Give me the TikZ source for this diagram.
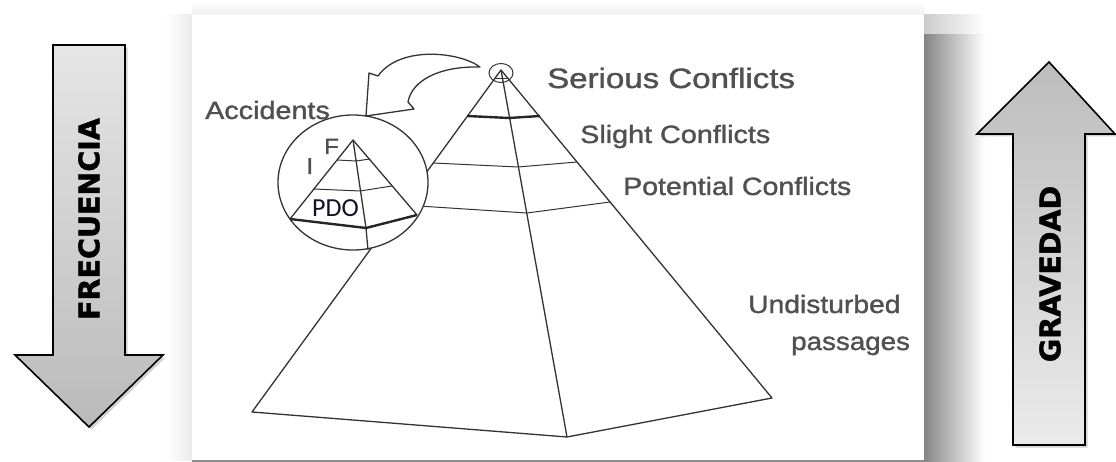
\documentclass[tikz,border=0pt]{standalone}
\usepackage{fontspec}
\usetikzlibrary{shadows}
\newfontfamily\labelfont[FakeBold=1.2]{Liberation Sans}
\newfontfamily\arrowfont[BoldFeatures={FakeBold=1.5}]{DejaVu Sans}
\newfontfamily\pdofont{Carlito}
\definecolor{Ink}{HTML}{333333}
\definecolor{Label}{HTML}{505050}
\definecolor{PdoInk}{HTML}{101028}

\begin{document}
\begin{tikzpicture}[x=1pt, y=-1pt,
    edge/.style={draw=Ink, line width=1.3pt, line join=round},
    layer/.style={draw=Ink, line width=1pt},
    boldlayer/.style={draw=black!85, line width=2.4pt},
    lab/.style={text=Label, font=\labelfont\fontsize{25}{28}\selectfont, inner sep=0pt, anchor=base west},
    bigarrow/.style={draw=black, line width=1.6pt, line join=miter,
      drop shadow={shadow xshift=2.5pt, shadow yshift=-2.5pt, opacity=.35}},
    arrowtext/.style={font=\arrowfont\bfseries\fontsize{28.5}{30}\selectfont, rotate=90, inner sep=0pt}
  ]
    \useasboundingbox (0,0) rectangle (1116,462);

    % frame of the scanned figure with its shadow
    \shade[left color=white, right color=black!8] (165,15) rectangle (192,460);
    \shade[top color=white, bottom color=black!6] (192,0) rectangle (924,15);
    \shade[left color=black!20, right color=white] (924,15) rectangle (985,35);
    \shade[left color=black!48, right color=white] (924,35) rectangle (985,462);
    \fill[black!45] (192,460) rectangle (924,462);
    \fill[white] (192,15) rectangle (924,460);

    % main pyramid
    \coordinate (apex) at (501,70);
    \coordinate (bl) at (252,412);
    \coordinate (bf) at (567,437);
    \coordinate (br) at (772,398);
    \draw[edge] (bl) -- (apex) -- (br) -- (bf) -- cycle;
    \draw[edge] (apex) -- (bf);
    \draw[boldlayer] (467,116) -- (509,118) -- (540,116);
    \draw[layer] (433,163) -- (518,167) -- (577,162);
    \draw[layer] (403,205) -- (527,213) -- (610,202);
    \draw[layer] (494,79) -- (508,79);
    \draw[layer] (501,73) ellipse [x radius=12pt, y radius=9.5pt];

    % accidents inset
    \draw[edge, fill=white] (353,182.5) ellipse [x radius=75pt, y radius=67.5pt];
    \coordinate (iapex) at (353,140);
    \coordinate (ibl) at (290,219);
    \coordinate (ibf) at (366,228);
    \coordinate (ibr) at (417,215);
    \draw[edge] (ibl) -- (iapex) -- (ibr);
    \draw[edge] (iapex) -- (ibf) -- (368,250);
    \draw[layer] (337,160) -- (356,161) -- (370,159);
    \draw[layer] (314,189) -- (360,191) -- (392,186);
    \draw[boldlayer] (ibl) -- (ibf) -- (ibr);

    % hollow curved arrow towards the inset
    \draw[edge, fill=white] (480,67) .. controls (460,52) and (400,45) .. (378,76)
      -- (369,73) -- (366,116) -- (414,109) -- (408,102)
      .. controls (412,80) and (440,66) .. cycle;

    \node[lab, font=\labelfont\fontsize{28}{30}\selectfont] (serious) at (547,88) {\scalebox{1.18}[1]{Serious Conflicts}};
    \node[lab] (slight) at (580,143) {\scalebox{1.15}[1]{Slight Conflicts}};
    \node[lab] (potential) at (623,195) {\scalebox{1.14}[1]{Potential Conflicts}};
    \node[lab] (undist) at (748,313) {\scalebox{1.13}[1]{Undisturbed}};
    \node[lab] (passages) at (791,350) {\scalebox{1.11}[1]{passages}};
    \node[lab] (accidents) at (205,119) {\scalebox{1.15}[1]{Accidents}};
    \node[lab, font=\labelfont\fontsize{22}{24}\selectfont] (fatal) at (324,154) {\scalebox{1.1}[1]{F}};
    \node[lab, font=\labelfont\fontsize{23}{26}\selectfont] (injury) at (306,174) {\scalebox{1.1}[1]{I}};
    \node[lab, text=PdoInk, font=\pdofont\fontsize{26}{28}\selectfont] (pdo) at (312,217) {PDO};

    % side arrows
    \draw[bigarrow, top color=black!10, bottom color=black!27]
      (53,45) -- (125,45) -- (125,355) -- (163,355) -- (89,427) -- (15,355) -- (53,355) -- cycle;
    \node[arrowtext] (frec) at (89,219) {FRECUENCIA};
    \draw[bigarrow, top color=black!26, bottom color=black!8]
      (1013,445) -- (1013,134) -- (977,134) -- (1049,62) -- (1115,134) -- (1085,134) -- (1085,445) -- cycle;
    \node[arrowtext] (grav) at (1050,274) {GRAVEDAD};
\end{tikzpicture}
\end{document}
